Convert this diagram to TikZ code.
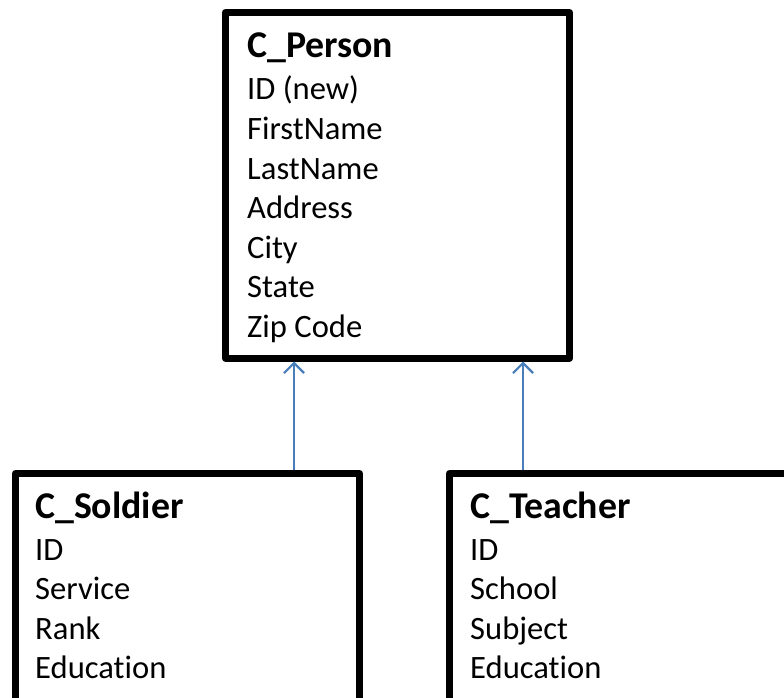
\documentclass[tikz,border=0pt]{standalone}
\usepackage{fontspec}
\setmainfont{Carlito}[Ligatures={NoCommon}]
\usetikzlibrary{arrows.meta}
\definecolor{connblue}{HTML}{4A7EBB}
\tikzset{
  classbox/.style={draw=black, line width=7pt, line join=round, inner sep=0pt, fill=white},
  ctitle/.style={anchor=base west, inner sep=0pt, font=\fontsize{37.8}{38}\selectfont\bfseries},
  cattr/.style={anchor=base west, inner sep=0pt, font=\fontsize{32.6}{33}\selectfont},
  inherit/.style={draw=connblue, line width=2.2pt, -{Straight Barb[length=10pt,width=20pt,line width=2.2pt]}}
}
\begin{document}
\begin{tikzpicture}[x=1pt,y=-1pt]
\clip (0,0) rectangle (784,698);
\fill[white] (0,0) rectangle (784,698);
% boxes
\node[classbox, minimum width=344pt, minimum height=345.5pt] (person) at (397.5,185.25) {};
\node[classbox, minimum width=344pt, minimum height=280pt] (soldier) at (187.5,613.5) {};
\node[classbox, minimum width=400pt, minimum height=280pt] (teacher) at (649.5,613.5) {};
% C_Person
\node[ctitle] (pt) at (247,58) {C\_Person};
\node[cattr] (p1) at (247,100) {ID (new)};
\node[cattr] (p2) at (247,139.5) {FirstName};
\node[cattr] (p3) at (247,179) {LastName};
\node[cattr] (p4) at (247,218.5) {Address};
\node[cattr] (p5) at (247,258) {City};
\node[cattr] (p6) at (247,297.5) {State};
\node[cattr] (p7) at (247,337) {Zip Code};
% C_Soldier
\node[ctitle] (st) at (35,518) {C\_Soldier};
\node[cattr] (s1) at (35,560) {ID};
\node[cattr] (s2) at (35,599.5) {Service};
\node[cattr] (s3) at (35,639) {Rank};
\node[cattr] (s4) at (35,678.5) {Education};
% C_Teacher
\node[ctitle] (tt) at (470,518) {C\_Teacher};
\node[cattr] (t1) at (470,560) {ID};
\node[cattr] (t2) at (470,599.5) {School};
\node[cattr] (t3) at (470,639) {Subject};
\node[cattr] (t4) at (470,678.5) {Education};
% connectors
\coordinate (sx) at (294,0);
\coordinate (tx) at (523,0);
\draw[inherit] (soldier.north -| sx) -- (person.south -| sx);
\draw[inherit] (teacher.north -| tx) -- (person.south -| tx);
\end{tikzpicture}
\end{document}
